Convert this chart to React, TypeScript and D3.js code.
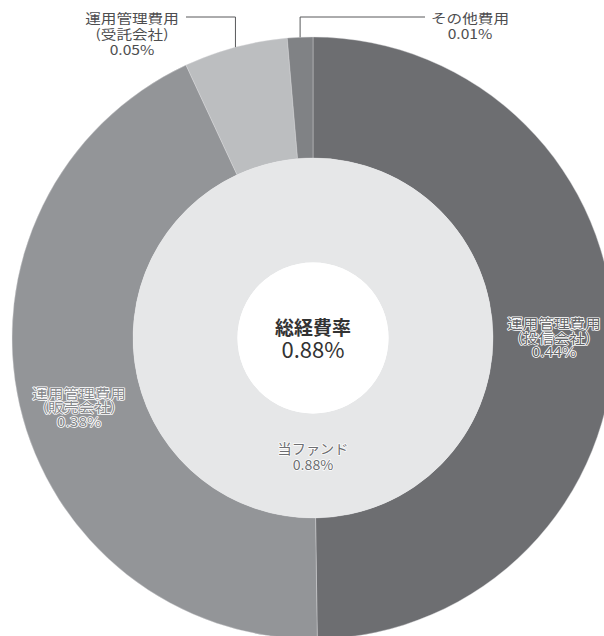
import React from 'react';
import * as d3 from 'd3';

// ---- data ----
const categories = ['運用管理費用', '運用管理費用', '運用管理費用', 'その他費用'];
const subLabels = ['(投信会社)', '(販売会社)', '(受託会社)', ''];
const valueLabels = ['0.44%', '0.38%', '0.05%', '0.01%'];
const values = [0.438, 0.381, 0.049, 0.012];
const colors = ['#6d6e71', '#939598', '#bcbec0', '#808285'];
const labelFills = ['#626366', '#86888b', '#4d4d4f', '#4d4d4f'];
const innerName = '当ファンド';
const innerValue = '0.88%';
const centerTitle = '総経費率';
const centerValue = '0.88%';

// ---- layout ----
const W = 604;
const H = 636;
const cx = 313;
const cy = 338;
const rOuter = 301;
const rMid = 180;
const rCenter = 75.5;
const FONT = '"Noto Sans CJK JP", "Noto Sans", sans-serif';
const LABEL_SIZE = 13;
const SX = 1.2;

export default function App() {
  const pie = d3
    .pie<number>()
    .sort(null)
    .startAngle(0)
    .endAngle(2 * Math.PI)
    .value((d) => d);
  const arcs = pie(values);
  const outerArc = d3.arc<d3.PieArcDatum<number>>().innerRadius(rMid).outerRadius(rOuter);
  const labelArc = d3.arc<d3.PieArcDatum<number>>().innerRadius(241).outerRadius(241);
  const innerRing = d3.arc()({ innerRadius: rCenter, outerRadius: rMid, startAngle: 0, endAngle: 2 * Math.PI }) as string;

  const pt = (angle: number, r: number) => [Math.sin(angle) * r, -Math.cos(angle) * r];

  const insideShift: Record<number, [number, number]> = { 0: [0, 0], 1: [1, 14] };
  const elbowY = 17 - cy;
  const outside: Record<number, { lineEnd: number; textX: number; lines: number[] }> = {
    2: { lineEnd: 186 - cx, textX: 132 - cx, lines: [23, 39, 55] },
    3: { lineEnd: 425 - cx, textX: 470 - cx, lines: [23, 39] },
  };

  return (
    <svg
      width={W}
      height={H}
      viewBox={`0 0 ${W} ${H}`}
      style={{ position: 'absolute', left: 0, top: 0, background: '#fff' }}
      fontFamily={FONT}
    >
      <g transform={`translate(${cx},${cy})`}>
        {arcs.map((a, i) => (
          <path key={i} d={outerArc(a) as string} fill={colors[i]} stroke="#d8d9db" strokeWidth={0.4} />
        ))}
        <path d={innerRing} fill="#e6e7e8" />
        <circle r={rCenter} fill="#ffffff" />

        {/* inside labels */}
        {arcs.map((a, i) => {
          if (!(i in insideShift)) return null;
          const [x, y] = labelArc.centroid(a);
          const [sx, sy] = insideShift[i];
          const lines = [categories[i], subLabels[i], valueLabels[i]];
          return (
            <text
              key={`in${i}`}
              transform={`translate(${x + sx},${y + sy}) scale(${SX},1)`}
              textAnchor="middle"
              fontSize={LABEL_SIZE}
              fill={labelFills[i]}
              stroke="#ffffff"
              strokeWidth={1.4}
              strokeLinejoin="round"
              paintOrder="stroke"
            >
              {lines.map((t, k) => (
                <tspan key={k} x={0} y={-8 + k * 14.5}>
                  {t}
                </tspan>
              ))}
            </text>
          );
        })}

        {/* outside labels with leader lines */}
        {arcs.map((a, i) => {
          const o = outside[i];
          if (!o) return null;
          const mid = (a.startAngle + a.endAngle) / 2;
          const [px, py] = pt(mid, rOuter);
          const lines = [categories[i], subLabels[i], valueLabels[i]].filter((t) => t !== '');
          return (
            <g key={`out${i}`}>
              <polyline
                points={`${px},${py} ${px},${elbowY} ${o.lineEnd},${elbowY}`}
                fill="none"
                stroke="#58595b"
                strokeWidth={1}
              />
              <text
                transform={`translate(${o.textX},0) scale(${SX},1)`}
                textAnchor="middle"
                fontSize={LABEL_SIZE}
                fill={labelFills[i]}
              >
                {lines.map((t, k) => (
                  <tspan key={k} x={0} y={o.lines[k] - cy}>
                    {t}
                  </tspan>
                ))}
              </text>
            </g>
          );
        })}

        {/* inner ring label */}
        <text
          transform={`scale(1.05,1)`}
          textAnchor="middle"
          fontSize={13.5}
          fill="#6d6e71"
          stroke="#ffffff"
          strokeWidth={1.4}
          strokeLinejoin="round"
          paintOrder="stroke"
        >
          <tspan x={0} y={454 - cy}>{innerName}</tspan>
          <tspan x={0} y={470 - cy}>{innerValue}</tspan>
        </text>

        {/* center */}
        <text textAnchor="middle" fill="#333333">
          <tspan x={0} y={335 - cy} fontSize={19} fontWeight="bold">{centerTitle}</tspan>
          <tspan x={0} y={358 - cy} fontSize={22}>{centerValue}</tspan>
        </text>
      </g>
    </svg>
  );
}
